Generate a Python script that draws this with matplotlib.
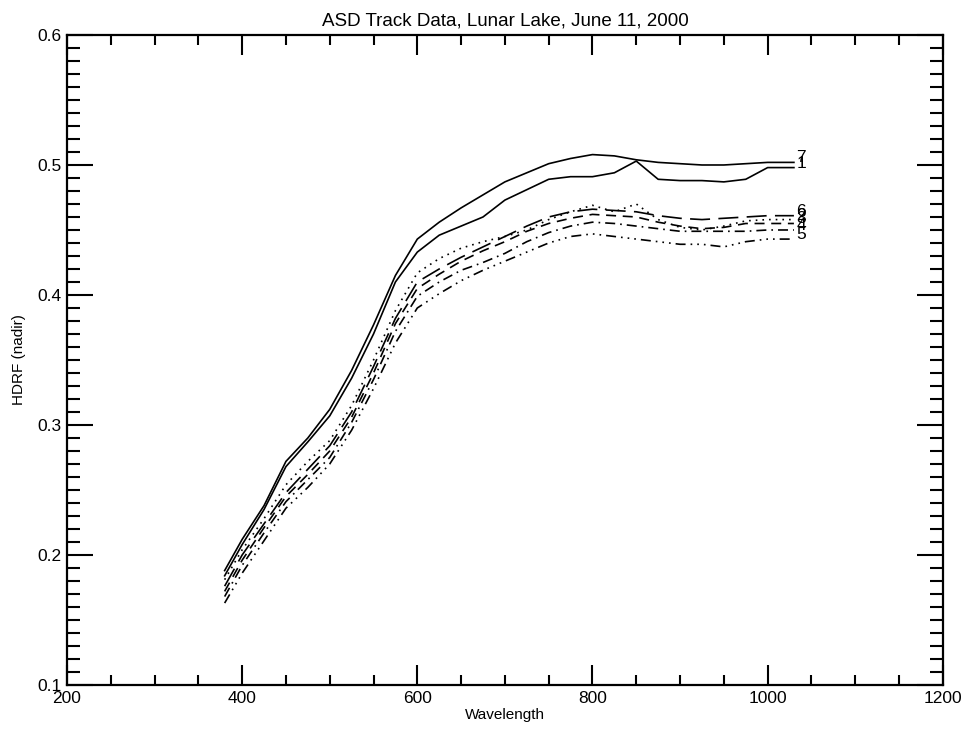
import numpy as np
import matplotlib
matplotlib.use("Agg")
import matplotlib.pyplot as plt
from matplotlib.ticker import MultipleLocator, FormatStrFormatter

plt.rcParams['font.family'] = ['Liberation Sans', 'DejaVu Sans']

# Wavelength grid (nm) and HDRF values
wavelength = [380, 400, 425, 450, 475, 500, 525, 550, 575, 600, 625, 650, 675,
              700, 725, 750, 775, 800, 825, 850, 875, 900, 925, 950, 975, 1000, 1030]

hdrf_1 = [0.184, 0.208, 0.235, 0.268, 0.287, 0.307, 0.336, 0.370, 0.410, 0.433,
          0.446, 0.453, 0.460, 0.473, 0.481, 0.489, 0.491, 0.491, 0.494, 0.503,
          0.489, 0.488, 0.488, 0.487, 0.489, 0.498, 0.498]
hdrf_2 = [0.181, 0.204, 0.228, 0.254, 0.272, 0.288, 0.315, 0.350, 0.388, 0.417,
          0.428, 0.436, 0.441, 0.445, 0.450, 0.458, 0.464, 0.469, 0.464, 0.470,
          0.458, 0.452, 0.450, 0.453, 0.457, 0.458, 0.458]
hdrf_3 = [0.172, 0.196, 0.221, 0.245, 0.262, 0.280, 0.306, 0.340, 0.378, 0.405,
          0.416, 0.426, 0.434, 0.441, 0.449, 0.455, 0.459, 0.462, 0.461, 0.460,
          0.456, 0.453, 0.451, 0.452, 0.455, 0.455, 0.455]
hdrf_4 = [0.168, 0.192, 0.217, 0.241, 0.258, 0.275, 0.302, 0.335, 0.372, 0.399,
          0.410, 0.419, 0.425, 0.432, 0.441, 0.448, 0.453, 0.456, 0.455, 0.453,
          0.451, 0.449, 0.449, 0.449, 0.449, 0.450, 0.450]
hdrf_5 = [0.163, 0.186, 0.211, 0.236, 0.252, 0.270, 0.296, 0.328, 0.363, 0.390,
          0.401, 0.411, 0.419, 0.426, 0.433, 0.440, 0.445, 0.447, 0.445, 0.443,
          0.441, 0.439, 0.439, 0.437, 0.441, 0.443, 0.443]
hdrf_6 = [0.176, 0.200, 0.224, 0.248, 0.266, 0.284, 0.310, 0.345, 0.382, 0.410,
          0.420, 0.429, 0.437, 0.445, 0.453, 0.460, 0.464, 0.466, 0.465, 0.464,
          0.461, 0.459, 0.458, 0.459, 0.460, 0.461, 0.461]
hdrf_7 = [0.188, 0.212, 0.238, 0.272, 0.290, 0.312, 0.342, 0.377, 0.415, 0.443,
          0.456, 0.467, 0.477, 0.487, 0.494, 0.501, 0.505, 0.508, 0.507, 0.504,
          0.502, 0.501, 0.500, 0.500, 0.501, 0.502, 0.502]

track_labels = ['1', '2', '3', '4', '5', '6', '7']
tracks = [hdrf_1, hdrf_2, hdrf_3, hdrf_4, hdrf_5, hdrf_6, hdrf_7]

# IDL linestyles 0..5, cycling
styles = ['-', (0, (1, 3)), (0, (6, 4)), (0, (6, 3, 1, 3)),
          (0, (6, 3, 1, 3, 1, 3, 1, 3)), (0, (12, 5)), '-']

fig = plt.figure(figsize=(9.64, 7.29), dpi=100)
ax = fig.add_axes([0.0695, 0.0604, 0.9085, 0.8916])

for lab, vals, ls in zip(track_labels, tracks, styles):
    ax.plot(wavelength, vals, color='black', linestyle=ls, linewidth=1.2)
    # labels sit on top of each other at the line ends, as in the original
    ax.text(wavelength[-1] + 3, vals[-1], lab, fontsize=12.5, va='baseline',
            ha='left')

ax.set_xlim(200, 1200)
ax.set_ylim(0.1, 0.6)
ax.xaxis.set_major_locator(MultipleLocator(200))
ax.xaxis.set_minor_locator(MultipleLocator(50))
ax.yaxis.set_major_locator(MultipleLocator(0.1))
ax.yaxis.set_minor_locator(MultipleLocator(0.01))
ax.xaxis.set_major_formatter(FormatStrFormatter('%d'))
ax.yaxis.set_major_formatter(FormatStrFormatter('%.1f'))

ax.tick_params(which='both', direction='in', top=True, right=True,
               labelsize=12.5, width=1.5, pad=4)
ax.tick_params(axis='x', which='major', length=14.4)
ax.tick_params(axis='x', which='minor', length=7.2)
ax.tick_params(axis='y', which='major', length=18.7)
ax.tick_params(axis='y', which='minor', length=9.4)
for sp in ax.spines.values():
    sp.set_linewidth(1.6)

ax.set_title("ASD Track Data, Lunar Lake, June 11, 2000", fontsize=13.5, pad=7)
ax.set_xlabel("Wavelength", fontsize=11, labelpad=2)
ax.set_ylabel("HDRF (nadir)", fontsize=11, labelpad=8)

fig.savefig("out.png", dpi=100)
